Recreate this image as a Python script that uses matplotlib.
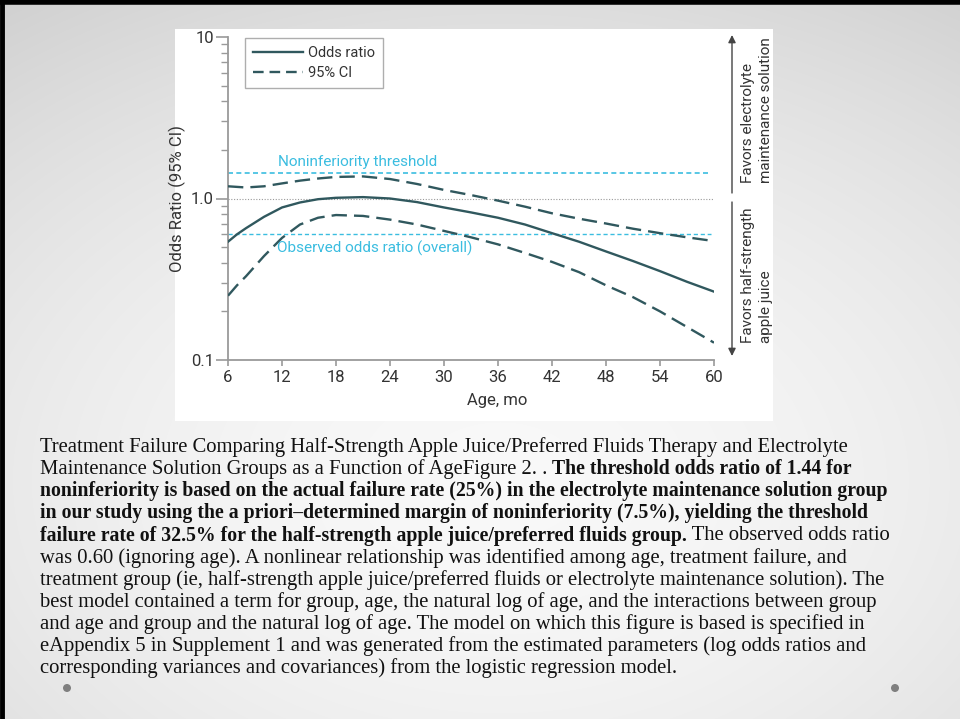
import numpy as np
import matplotlib
matplotlib.use("Agg")
import matplotlib.pyplot as plt
from matplotlib.lines import Line2D
from matplotlib.patches import Rectangle, Circle, FancyArrowPatch

# ---------------- data ----------------
ages = [6, 7, 8, 10, 12, 14, 16, 18, 21, 24, 27, 30, 33, 36, 39, 42, 45, 48, 51, 54, 57, 60]
odds_ratio = [0.54, 0.60, 0.655, 0.77, 0.88, 0.945, 0.99, 1.01, 1.02, 1.00, 0.95, 0.88,
              0.82, 0.76, 0.69, 0.61, 0.54, 0.47, 0.41, 0.355, 0.305, 0.265]
ci_upper = [1.19, 1.18, 1.17, 1.19, 1.24, 1.29, 1.33, 1.36, 1.37, 1.32, 1.23, 1.13,
            1.05, 0.97, 0.89, 0.81, 0.75, 0.70, 0.65, 0.61, 0.575, 0.545]
ci_lower = [0.25, 0.29, 0.33, 0.44, 0.57, 0.69, 0.76, 0.79, 0.78, 0.74, 0.69, 0.63,
            0.575, 0.52, 0.46, 0.405, 0.35, 0.29, 0.245, 0.20, 0.16, 0.128]
noninferiority_threshold = 1.44
observed_or = 0.60
x_ticks = [6, 12, 18, 24, 30, 36, 42, 48, 54, 60]
y_ticks = [0.1, 1.0, 10]
y_ticklabels = ["0.1", "1.0", "10"]

caption_lines = [
    [("Treatment Failure Comparing Half-Strength Apple Juice/Preferred Fluids Therapy and Electrolyte", "normal")],
    [("Maintenance Solution Groups as a Function of AgeFigure 2. . ", "normal"),
     ("The threshold odds ratio of 1.44 for", "bold")],
    [("noninferiority is based on the actual failure rate (25%) in the electrolyte maintenance solution group", "bold")],
    [("in our study using the a priori\u2013determined margin of noninferiority (7.5%), yielding the threshold", "bold")],
    [("failure rate of 32.5% for the half-strength apple juice/preferred fluids group.", "bold"),
     (" The observed odds ratio", "normal")],
    [("was 0.60 (ignoring age). A nonlinear relationship was identified among age, treatment failure, and", "normal")],
    [("treatment group (ie, half-strength apple juice/preferred fluids or electrolyte maintenance solution). The", "normal")],
    [("best model contained a term for group, age, the natural log of age, and the interactions between group", "normal")],
    [("and age and group and the natural log of age. The model on which this figure is based is specified in", "normal")],
    [("eAppendix 5 in Supplement 1 and was generated from the estimated parameters (log odds ratios and", "normal")],
    [("corresponding variances and covariances) from the logistic regression model.", "normal")],
]

# ---------------- figure ----------------
W, H = 960, 719
fig = plt.figure(figsize=(W / 100, H / 100), dpi=100)

# slide background gradient
bg = fig.add_axes([0, 0, 1, 1], zorder=-10)
yy, xx = np.mgrid[0:H, 0:W]
r = np.sqrt(((xx - 500) / 700.0) ** 2 + ((yy - 480) / 480.0) ** 2)
val = 0.975 - 0.11 * np.clip(r, 0, 1.3) ** 1.8
bg.imshow(np.dstack([val, val, val]), extent=[0, W, H, 0], aspect="auto", interpolation="bilinear")
bg.set_xlim(0, W)
bg.set_ylim(H, 0)
bg.axis("off")
bg.plot([1.5, 1.5], [0, H], color="black", lw=3.5)
bg.plot([0, W], [2, 2], color="black", lw=4)
bg.add_patch(Rectangle((175, 29), 598, 392, facecolor="white", edgecolor="none"))
for cx in (67, 895):
    bg.add_patch(Circle((cx, 688), 4, facecolor="#7f7f7f", edgecolor="none"))

sans = ["Roboto", "DejaVu Sans"]
serif = ["Liberation Serif", "DejaVu Serif"]

# ---------------- chart ----------------
L, R, T, B = 228, 714, 37, 360
ax = fig.add_axes([L / W, 1 - B / H, (R - L) / W, (B - T) / H])
ax.set_facecolor("none")
ax.set_yscale("log")
ax.set_xlim(6, 60)
ax.set_ylim(0.1, 10)

curve_col = "#30585e"
cyan = "#3bbde0"
axis_col = "#9a9a9a"
txt_col = "#333333"

ax.plot([6, 60], [1.0, 1.0], color="#9a9a9a", lw=0.8, ls=(0, (1, 1.5)), zorder=1)
ax.plot([6, 59.7], [noninferiority_threshold] * 2, color=cyan, lw=1.2, ls=(0, (3, 2)), zorder=1)
ax.plot([6, 59.7], [observed_or] * 2, color=cyan, lw=1.0, ls=(0, (3, 2)), zorder=1)

ax.plot(ages, odds_ratio, color=curve_col, lw=1.7, zorder=3)
ax.plot(ages, ci_upper, color=curve_col, lw=1.7, ls=(0, (6.5, 3)), zorder=3)
ax.plot(ages, ci_lower, color=curve_col, lw=1.7, ls=(0, (6.5, 3)), zorder=3)

ax.text(11.5, 1.53, "Noninferiority threshold", color=cyan, fontsize=11,
        family=sans, ha="left", va="bottom")
ax.text(11.4, 0.55, "Observed odds ratio (overall)", color=cyan, fontsize=11,
        family=sans, ha="left", va="top")

for s in ("top", "right"):
    ax.spines[s].set_visible(False)
for s in ("left", "bottom"):
    ax.spines[s].set_color(axis_col)
    ax.spines[s].set_linewidth(1.3)

ax.set_xticks(x_ticks)
ax.set_xticklabels([str(t) for t in x_ticks], family=sans, fontsize=12, color=txt_col)
ax.set_yticks(y_ticks)
ax.set_yticklabels(y_ticklabels, family=sans, fontsize=12, color=txt_col)
ax.yaxis.set_minor_locator(matplotlib.ticker.LogLocator(base=10, subs=np.arange(2, 10)))
ax.yaxis.set_minor_formatter(matplotlib.ticker.NullFormatter())
ax.tick_params(axis="both", which="major", direction="out", color=axis_col, width=1.2)
ax.tick_params(axis="y", which="major", length=9, pad=1)
ax.tick_params(axis="x", which="major", length=4, pad=3)
ax.tick_params(axis="y", which="minor", direction="out", length=5, color=axis_col, width=1.0)

ax.set_ylabel("Odds Ratio (95% CI)", family=sans, fontsize=12, color=txt_col, labelpad=4)
fig.text(497 / W, 1 - 401 / H, "Age, mo", family=sans, fontsize=12, color=txt_col,
         ha="center", va="center")

handles = [Line2D([], [], color=curve_col, lw=1.7),
           Line2D([], [], color=curve_col, lw=1.7, ls=(0, (4.5, 2.5)))]
leg = ax.legend(handles, ["Odds ratio", "95% CI"], loc="upper left",
                bbox_to_anchor=((245 - L) / (R - L), 1 - (38 - T) / (B - T)),
                borderaxespad=0, frameon=True, fancybox=False, handlelength=3.4,
                handletextpad=0.35, borderpad=0.55, labelspacing=0.4,
                prop={"family": sans, "size": 10.5})
leg.get_frame().set_edgecolor(axis_col)
leg.get_frame().set_linewidth(1.0)
for t in leg.get_texts():
    t.set_color(txt_col)

# right-side favour arrows and labels
ax_x = 732 / W
arrow_kw = dict(arrowstyle="-|>", color="#444444", lw=1.0, mutation_scale=11,
                shrinkA=0, shrinkB=0)
fig.add_artist(FancyArrowPatch((ax_x, 1 - 193 / H), (ax_x, 1 - 35 / H),
                               transform=fig.transFigure, **arrow_kw))
fig.add_artist(FancyArrowPatch((ax_x, 1 - 202 / H), (ax_x, 1 - 356 / H),
                               transform=fig.transFigure, **arrow_kw))
fig.text(757 / W, 1 - 183 / H, "Favors electrolyte\nmaintenance solution", rotation=90,
         ha="center", va="bottom", multialignment="left", family=sans, fontsize=11,
         color=txt_col, linespacing=1.3)
fig.text(757 / W, 1 - 343 / H, "Favors half-strength\napple juice", rotation=90,
         ha="center", va="bottom", multialignment="left", family=sans, fontsize=11,
         color=txt_col, linespacing=1.3)

# ---------------- caption ----------------
renderer = fig.canvas.get_renderer()
x0 = 40
line_y = [447 + 22.15 * i for i in range(len(caption_lines))]
sizes = {"normal": 14.85, "bold": 14.2}
for segs, yc in zip(caption_lines, line_y):
    x = x0
    for txt, wt in segs:
        t = fig.text(x / W, 1 - yc / H, txt, family=serif, fontsize=sizes[wt],
                     fontweight=wt, color="#111111", ha="left", va="center")
        bb = t.get_window_extent(renderer=renderer)
        x += bb.width

fig.savefig("out.png", dpi=100)
